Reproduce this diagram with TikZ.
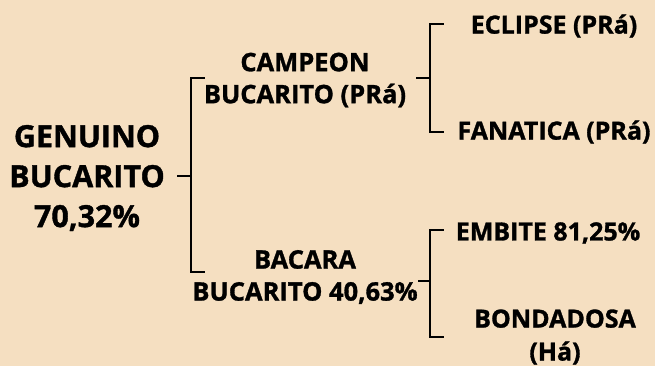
\documentclass[tikz,border=0pt]{standalone}
\usepackage{fontspec}
\setmainfont{Open Sans}[BoldFeatures={FakeBold=1.2}]
\usepackage{xcolor}
\usetikzlibrary{positioning}
\definecolor{fundoBege}{RGB}{245,223,193}

\begin{document}
\begin{tikzpicture}[x=1pt,y=-1pt,
        raiz/.style={font=\bfseries\fontsize{30.5}{40}\selectfont,
                     align=center,inner sep=0pt},
        filho/.style={font=\bfseries\fontsize{25.5}{32}\selectfont,
                      align=center,inner sep=0pt},
        neto/.style={font=\bfseries\fontsize{25}{33}\selectfont,
                     align=center,inner sep=0pt},
        ed/.style={draw=black,line width=2.6pt}]

        \fill[fundoBege] (0,0) rectangle (655,366);
        \useasboundingbox (0,0) rectangle (655,366);

        \node[raiz]  (gen)  at (87,178)  {GENUINO\\BUCARITO\\70,32\%};
        \node[filho] (camp) at (305,80)  {CAMPEON\\BUCARITO (PRá)};
        \node[filho] (bac)  at (305,277) {BACARA\\BUCARITO 40,63\%};
        \node[neto]  (ecl)  at (554,26)  {ECLIPSE (PRá)};
        \node[neto]  (fan)  at (554,132) {FANATICA (PRá)};
        \node[neto]  (emb)  at (548,233) {EMBITE 81,25\%};
        \node[neto]  (bon)  at (555,337) {BONDADOSA\\(Há)};

        % chaves
        \coordinate (gen-out)  at (177,176);
        \coordinate (gen-sp)   at (191,176);
        \coordinate (camp-out) at (416,78);
        \coordinate (camp-sp)  at (430,78);
        \coordinate (bac-out)  at (418,281);
        \coordinate (bac-sp)   at (430,281);
        \coordinate (camp-in)  at (205,78);
        \coordinate (bac-in)   at (205,272);
        \coordinate (ecl-in)   at (444,24);
        \coordinate (fan-in)   at (444,132);
        \coordinate (emb-in)   at (444,230);
        \coordinate (bon-in)   at (444,337);

        \foreach \a/\b in {gen/camp,gen/bac,camp/ecl,camp/fan,
                            bac/emb,bac/bon}{
          \draw[ed] (\a-out)--(\a-sp)|-(\b-in);
        }
      \end{tikzpicture}
\end{document}
